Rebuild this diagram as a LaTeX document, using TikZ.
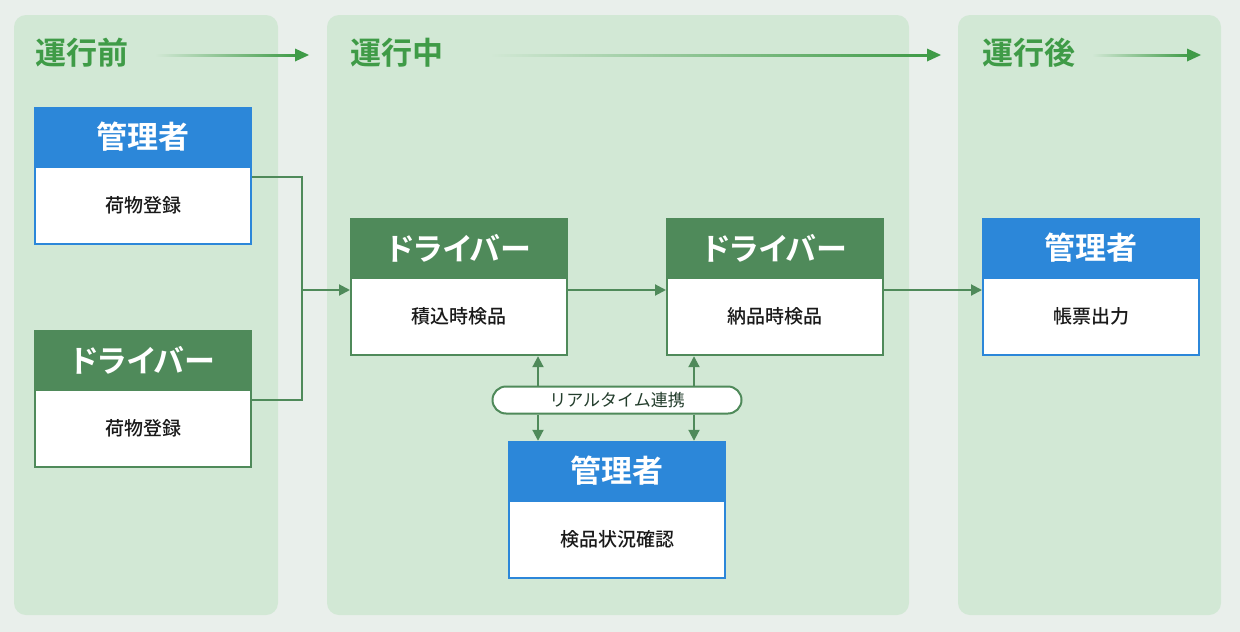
\documentclass[tikz,border=0pt]{standalone}
\usepackage{fontspec}
\setmainfont{Noto Sans CJK JP}[BoldFont={Noto Sans CJK JP Bold}]
\newfontfamily\jpmed{Noto Sans CJK JP Medium}
\newfontfamily\jpbp{Noto Sans CJK JP Bold}[RawFeature=+palt]
\usetikzlibrary{arrows.meta,calc}
\definecolor{bg}{HTML}{E9EFEB}
\definecolor{panel}{HTML}{D2E8D5}
\definecolor{hgreen}{HTML}{3F9B47}
\definecolor{mblue}{HTML}{2C87D9}
\definecolor{dgreen}{HTML}{4F8A5A}
\definecolor{ptext}{HTML}{233D2C}
\tikzset{
  phase/.style={anchor=west, text=hgreen, inner sep=0, font=\bfseries\fontsize{31}{33}\selectfont},
  hb/.style={fill=mblue, minimum width=218pt, minimum height=60pt, inner sep=0, text=white, font=\jpbp\fontsize{31}{33}\selectfont},
  hg/.style={hb, fill=dgreen},
  bodyb/.style={draw=mblue, line width=2pt, fill=white, minimum width=216pt, minimum height=77pt, inner sep=0, text=black!90, font=\jpmed\fontsize{19}{22}\selectfont, anchor=north},
  bodyg/.style={bodyb, draw=dgreen},
  conn/.style={draw=dgreen, line width=2pt},
  tip/.style={-{Triangle[length=11pt,width=11pt]}},
  pill/.style={draw=dgreen, line width=2pt, fill=white, minimum width=249pt, minimum height=27pt, rounded corners=13.5pt, inner sep=0, text=ptext, font=\fontsize{17}{19}\selectfont},
}
\begin{document}
\begin{tikzpicture}[x=1pt,y=-1pt]
\useasboundingbox (0,0) rectangle (1240,632);
\fill[bg] (0,0) rectangle (1240,632);
% panels
\fill[panel, rounded corners=12pt] (14,15) rectangle (278,615);
\fill[panel, rounded corners=12pt] (327,15) rectangle (909,615);
\fill[panel, rounded corners=12pt] (958,15) rectangle (1221,615);
% phase headings
\node[phase] (p1) at (35,53) {運行前};
\node[phase] (p2) at (350,53) {運行中};
\node[phase] (p3) at (982,53) {運行後};
% heading arrows
\coordinate (a1s) at (155,55); \coordinate (a1e) at (309,55);
\coordinate (a2s) at (490,55); \coordinate (a2e) at (941,55);
\coordinate (a3s) at (1092,55); \coordinate (a3e) at (1201,55);
\foreach \s/\e in {a1s/a1e, a2s/a2e, a3s/a3e}{
  \shade[left color=panel, right color=hgreen] ($(\s)+(0,-1)$) rectangle ($(\e)+(-12,1)$);
  \fill[hgreen] (\e) -- ($(\e)+(-14,-6.5)$) -- ($(\e)+(-14,6.5)$) -- cycle;
}
% boxes
\node[hb] (aH) at (143,137) {管理者};
\node[bodyb] (aB) at ($(aH.south)+(0,-1)$) {荷物登録};
\node[hg] (bH) at (143,360) {ドライバー};
\node[bodyg] (bB) at ($(bH.south)+(0,-1)$) {荷物登録};
\node[hg] (cH) at (459,248) {ドライバー};
\node[bodyg] (cB) at ($(cH.south)+(0,-1)$) {積込時検品};
\node[hg] (dH) at (775,248) {ドライバー};
\node[bodyg] (dB) at ($(dH.south)+(0,-1)$) {納品時検品};
\node[hb] (eH) at (1091,248) {管理者};
\node[bodyb] (eB) at ($(eH.south)+(0,-1)$) {帳票出力};
\node[hb] (fH) at (617,471) {管理者};
\node[bodyb] (fB) at ($(fH.south)+(0,-1)$) {検品状況確認};
% pill
\node[pill] (rt) at (617,400) {リアルタイム連携};
% connectors
\coordinate (j) at (302,290);
\draw[conn] ($(aB.north east)+(0,11)$) -| (j);
\draw[conn] ($(bB.north east)+(0,11)$) -| (j);
\draw[conn,tip] (j) -- (cB.west |- j);
\draw[conn,tip] (cB.east |- j) -- (dB.west |- j);
\draw[conn,tip] (dB.east |- j) -- (eB.west |- j);
\coordinate (v1) at (538,0);
\coordinate (v2) at (694,0);
\draw[conn,tip] (rt.north -| v1) -- (cB.south -| v1);
\draw[conn,tip] (rt.south -| v1) -- (fH.north -| v1);
\draw[conn,tip] (rt.north -| v2) -- (dB.south -| v2);
\draw[conn,tip] (rt.south -| v2) -- (fH.north -| v2);
\end{tikzpicture}
\end{document}
